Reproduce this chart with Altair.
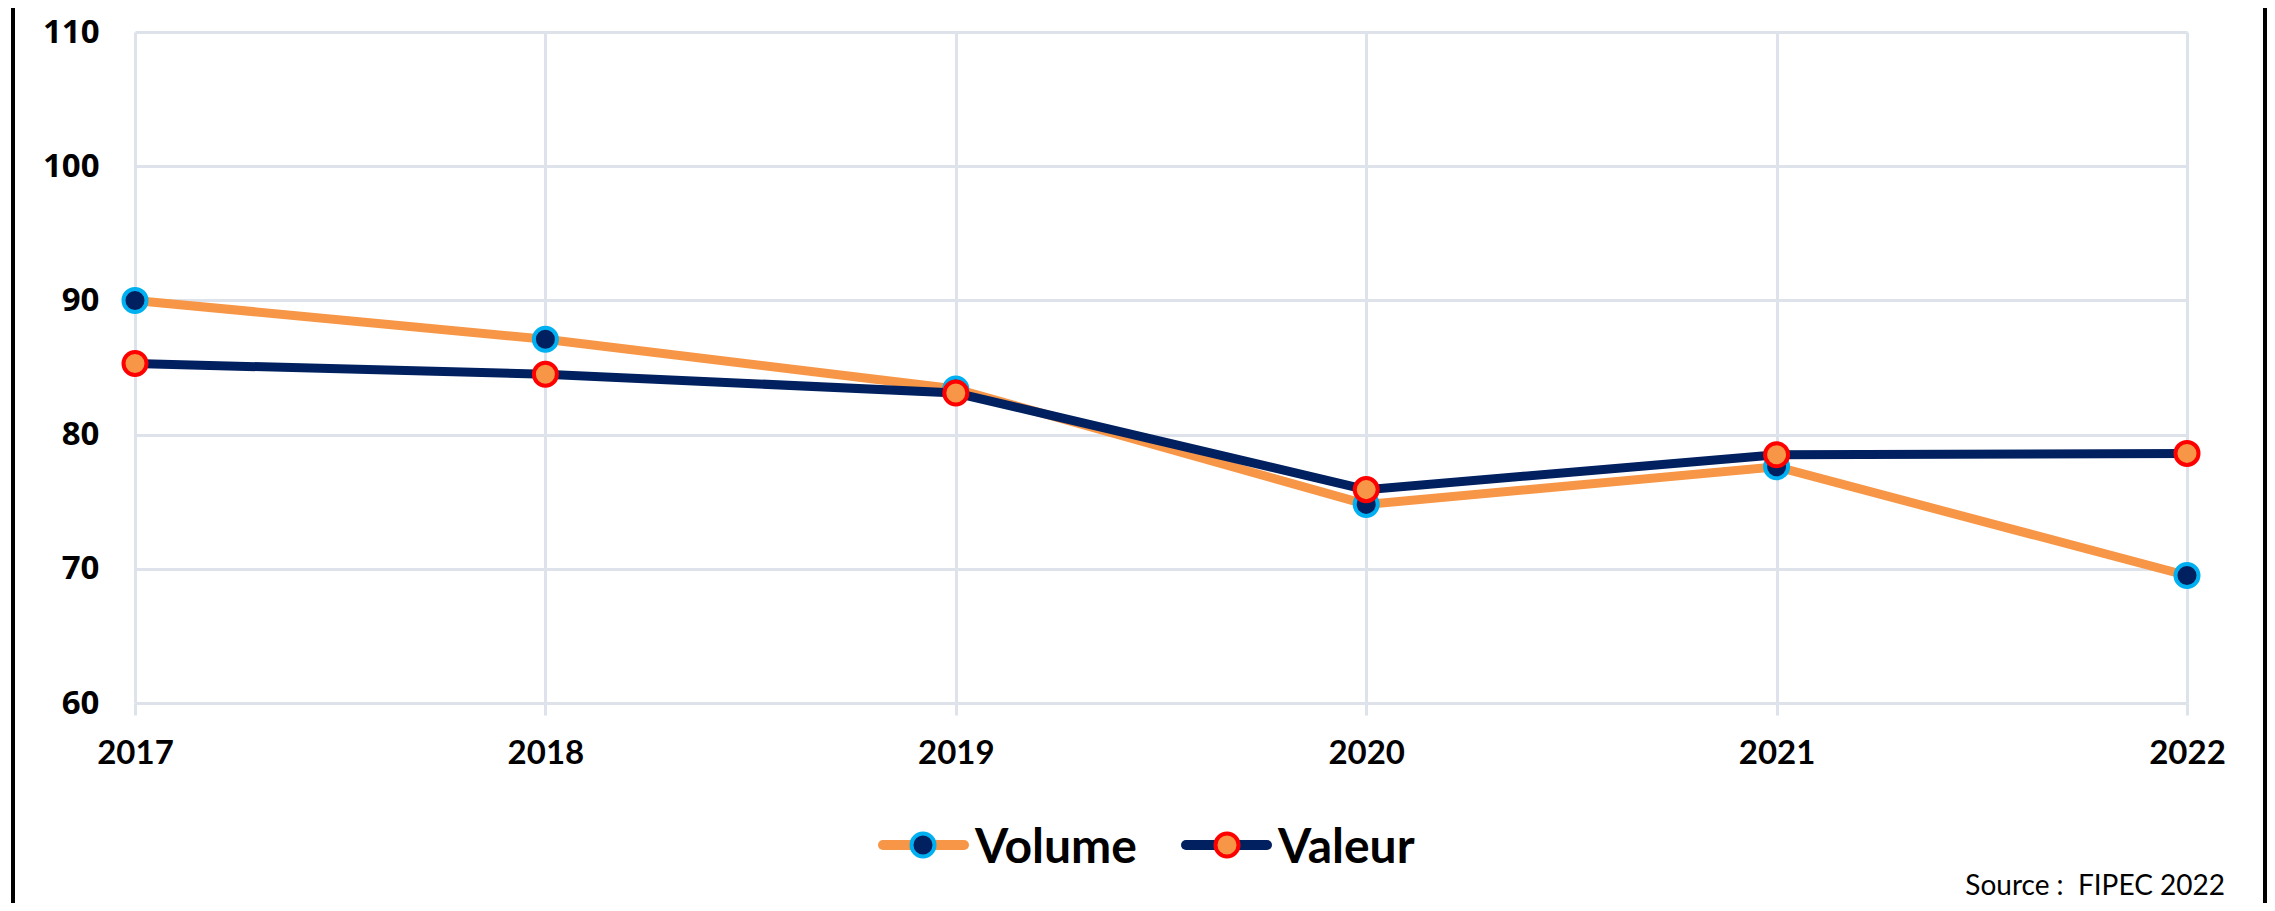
import altair as alt
import pandas as pd

years = ["2017", "2018", "2019", "2020", "2021", "2022"]
volume = [90.0, 87.1, 83.4, 74.8, 77.6, 69.5]
valeur = [85.3, 84.5, 83.1, 75.9, 78.5, 78.6]
series_names = ["Volume", "Valeur"]
line_colors = ["#F79646", "#002060"]
marker_fills = ["#002060", "#F79646"]
marker_strokes = ["#00B0F0", "#FF0000"]
y_ticks = [60, 70, 80, 90, 100, 110]
source_text = ["Source :\u00a0 FIPEC 2022"]

rows = []
for yr, v in zip(years, volume):
    rows.append({"year": yr, "series": "Volume", "value": v})
for yr, v in zip(years, valeur):
    rows.append({"year": yr, "series": "Valeur", "value": v})
df = pd.DataFrame(rows)

GRID = "#DEE2EA"

x_enc = alt.X(
    "year:O", title=None,
    scale=alt.Scale(type="point", padding=0),
    axis=alt.Axis(labelAngle=0, domain=False, grid=True, gridColor=GRID, gridWidth=3,
                  ticks=True, tickColor=GRID, tickWidth=3, tickSize=12,
                  labelFont="Lato", labelFontSize=33, labelFontWeight="bold",
                  labelColor="black", labelPadding=38, labelBaseline="middle"),
)
y_enc = alt.Y(
    "value:Q", title=None,
    scale=alt.Scale(domain=[60, 110], nice=False, zero=False),
    axis=alt.Axis(values=y_ticks, domain=False, grid=True, gridColor=GRID, gridWidth=3,
                  ticks=False, labelFont="Open Sans", labelFontSize=33,
                  labelFontWeight="bold", labelColor="black", labelPadding=36),
)

color_enc = alt.Color("series:N", scale=alt.Scale(domain=series_names, range=line_colors),
                      legend=None)
fill_enc = alt.Fill("series:N", scale=alt.Scale(domain=series_names, range=marker_fills),
                    legend=None)
stroke_enc = alt.Stroke("series:N", scale=alt.Scale(domain=series_names, range=marker_strokes),
                        legend=None)

base = alt.Chart(df)
layers = []
for name in series_names:
    sub = base.transform_filter(alt.datum.series == name)
    layers.append(sub.mark_line(strokeWidth=9).encode(x=x_enc, y=y_enc, color=color_enc))
    layers.append(sub.mark_point(shape="circle", filled=True, size=530, strokeWidth=4, opacity=1)
                  .encode(x=x_enc, y=y_enc, fill=fill_enc, stroke=stroke_enc))

# manual legend (line + marker + label), laid out below the plot
LEG_Y = 813
leg_line_x1 = [748, 1051]
leg_line_x2 = [829, 1132]
leg_dot_x = [788, 1092]
leg_text_x = [840, 1143]
legend_layers = []
for i, name in enumerate(series_names):
    ldf = pd.DataFrame({"label": [name]})
    lc = alt.Chart(ldf)
    legend_layers.append(lc.mark_rule(color=line_colors[i], strokeWidth=10, strokeCap="round").encode(
        x=alt.value(leg_line_x1[i]), x2=alt.value(leg_line_x2[i]), y=alt.value(LEG_Y)))
    legend_layers.append(lc.mark_point(shape="circle", filled=True, fill=marker_fills[i],
                                       stroke=marker_strokes[i], strokeWidth=4, size=530,
                                       opacity=1).encode(
        x=alt.value(leg_dot_x[i]), y=alt.value(LEG_Y)))
    legend_layers.append(lc.mark_text(align="left", baseline="alphabetic", font="Lato",
                                      fontSize=48, fontWeight="bold", color="black").encode(
        x=alt.value(leg_text_x[i]), y=alt.value(LEG_Y + 18), text="label:N"))

src = alt.Chart(pd.DataFrame({"t": source_text})).mark_text(
    align="right", baseline="alphabetic", font="Lato", fontSize=28, color="black"
).encode(x=alt.value(2090), y=alt.value(863), text="t:N")

border_df = pd.DataFrame({"b": [0]})
left_border = alt.Chart(border_df).mark_rule(color="black", strokeWidth=4).encode(
    x=alt.value(-122), y=alt.value(-24), y2=alt.value(871))
right_border = alt.Chart(border_df).mark_rule(color="black", strokeWidth=4).encode(
    x=alt.value(2130), y=alt.value(-24), y2=alt.value(871))

chart = alt.layer(*layers, *legend_layers, src, left_border, right_border).properties(
    width=2052, height=671,
    padding={"left": 127, "top": 24, "right": 80, "bottom": 200},
    autosize=alt.AutoSizeParams(type="none"),
    background="white",
).configure_view(strokeWidth=0)

chart.save("out.html", embed_options={"renderer": "svg", "actions": False})
